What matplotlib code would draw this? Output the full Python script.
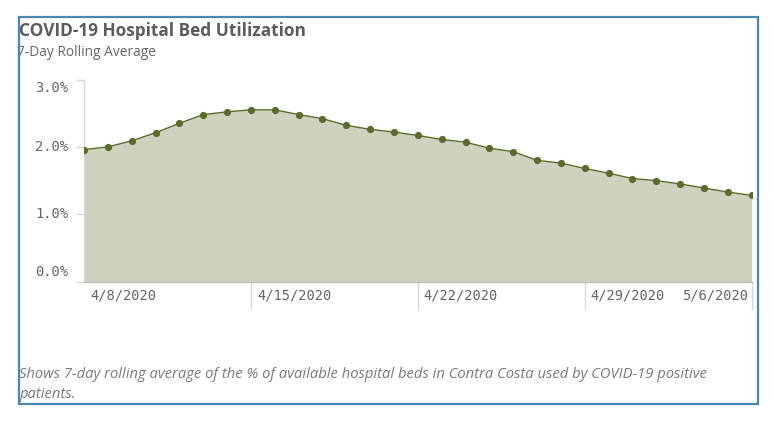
import matplotlib
matplotlib.use("Agg")
import matplotlib.pyplot as plt
import matplotlib.dates as mdates
from matplotlib.patches import Rectangle
import numpy as np
import pandas as pd

# ---- data ----
dates = ["2020-04-08", "2020-04-09", "2020-04-10", "2020-04-11", "2020-04-12",
         "2020-04-13", "2020-04-14", "2020-04-15", "2020-04-16", "2020-04-17",
         "2020-04-18", "2020-04-19", "2020-04-20", "2020-04-21", "2020-04-22",
         "2020-04-23", "2020-04-24", "2020-04-25", "2020-04-26", "2020-04-27",
         "2020-04-28", "2020-04-29", "2020-04-30", "2020-05-01", "2020-05-02",
         "2020-05-03", "2020-05-04", "2020-05-05", "2020-05-06"]
values = [1.96, 2.00, 2.09, 2.21, 2.35, 2.48, 2.52, 2.55, 2.55, 2.48,
          2.42, 2.32, 2.26, 2.22, 2.17, 2.11, 2.07, 1.98, 1.93, 1.80,
          1.76, 1.68, 1.61, 1.53, 1.50, 1.45, 1.39, 1.33, 1.28]
y_ticks = [0.0, 1.0, 2.0, 3.0]
y_tick_labels = ["0.0%", "1.0%", "2.0%", "3.0%"]
x_ticks = ["2020-04-08", "2020-04-15", "2020-04-22", "2020-04-29", "2020-05-06"]
x_tick_labels = ["4/8/2020", "4/15/2020", "4/22/2020", "4/29/2020", "5/6/2020"]

title = "COVID-19 Hospital Bed Utilization"
subtitle = "7-Day Rolling Average"
caption1 = "Shows 7-day rolling average of the % of available hospital beds in Contra Costa used by COVID-19 positive"
caption2 = "patients."

# ---- style ----
W, H = 774, 426
fill_color = "#cdd3bf"
line_color = "#5b6b2b"
text_gray = "#666666"
grid_gray = "#d9d9d9"

x = pd.to_datetime(dates)
xt = pd.to_datetime(x_ticks)

fig = plt.figure(figsize=(W / 100, H / 100), dpi=100)
fig.patch.set_facecolor("white")

def fx(px):
    return px / W

def fy(py):
    return 1 - py / H

ax = fig.add_axes([fx(84), fy(281.7), fx(751.7) - fx(84), fy(79.5) - fy(281.7)])
ax.fill_between(x, values, 0, color=fill_color, linewidth=0, zorder=1)
ax.plot(x, values, color=line_color, linewidth=1.0, marker="o", markersize=5.2,
        markeredgewidth=0, zorder=3)

ax.set_xlim(x[0], x[-1])
ax.set_ylim(0, 3.0)

for s in ["top", "right"]:
    ax.spines[s].set_visible(False)
ax.spines["left"].set_color(grid_gray)
ax.spines["left"].set_linewidth(1.0)
ax.spines["bottom"].set_color("#bdbdbd")
ax.spines["bottom"].set_linewidth(1.0)

# y ticks
ax.set_yticks(y_ticks)
ax.set_yticklabels([])
ax.tick_params(axis="y", length=6, color=grid_gray, width=1)
mono = "DejaVu Sans Mono"
for v, lab in zip(y_ticks, y_tick_labels):
    if v == max(y_ticks):
        va, off = "top", -2
    elif v == min(y_ticks):
        va, off = "bottom", 3
    else:
        va, off = "center", 0
    ax.annotate(lab, xy=(0, v), xycoords=("axes fraction", "data"),
                xytext=(-16, off), textcoords="offset pixels",
                ha="right", va=va, fontsize=9.9, family=mono, color=text_gray)

# x ticks: long light lines below the axis at weekly marks (except first)
ax.set_xticks(xt[1:])
ax.set_xticklabels([])
ax.tick_params(axis="x", length=20, color=grid_gray, width=1, direction="out")

for i, (d, lab) in enumerate(zip(xt, x_tick_labels)):
    if i == len(xt) - 1:
        ha, dx = "right", -4
    else:
        ha, dx = "left", 6
    ax.annotate(lab, xy=(d, 0), xycoords=("data", "axes fraction"),
                xytext=(dx, -14), textcoords="offset pixels",
                ha=ha, va="center", fontsize=9.9, family=mono, color=text_gray)

# titles
fig.text(fx(19), fy(31), title, fontsize=12.4, fontweight="bold", color="#5c5c5c",
         family="Open Sans", ha="left", va="center")
fig.text(fx(17), fy(52), subtitle, fontsize=9.9, color=text_gray,
         family="Open Sans", ha="left", va="center")

# caption
fig.text(fx(19), fy(375), caption1, fontsize=10.6, style="italic", color="#7a7a7a",
         family="Open Sans", ha="left", va="center")
fig.text(fx(19), fy(395), caption2, fontsize=10.6, style="italic", color="#7a7a7a",
         family="Open Sans", ha="left", va="center")

# frame
frame = Rectangle((fx(19), fy(404)), fx(758) - fx(19), fy(17) - fy(404),
                  transform=fig.transFigure, fill=False, edgecolor="#4a88b3",
                  linewidth=1.6, zorder=10)
fig.patches.append(frame)

fig.savefig("out.png", dpi=100, facecolor="white")
